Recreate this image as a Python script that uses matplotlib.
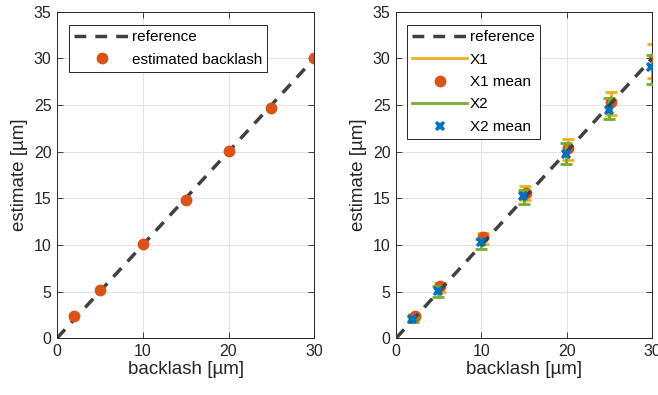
import numpy as np
import matplotlib.pyplot as plt
from matplotlib.lines import Line2D

plt.rcParams['font.family'] = ['Liberation Sans', 'DejaVu Sans']

# data
backlash = [2, 5, 10, 15, 20, 25, 30]
estimated = [2.4, 5.2, 10.1, 14.8, 20.1, 24.7, 30.0]

x1_mean = [2.35, 5.55, 10.85, 15.6, 20.4, 25.3, 30.1]
x1_low = [2.1, 5.0, 10.1, 14.8, 19.1, 23.9, 27.9]
x1_high = [2.6, 5.9, 11.3, 16.3, 21.4, 26.4, 31.5]
x2_mean = [2.0, 5.1, 10.3, 15.2, 19.8, 24.5, 29.1]
x2_low = [1.7, 4.4, 9.55, 14.4, 18.7, 23.5, 27.3]
x2_high = [2.3, 5.6, 10.6, 15.9, 20.9, 25.8, 30.4]

c_ref = '#404040'
c_orange = '#D95319'
c_yellow = '#EDB120'
c_green = '#77AC30'
c_blue = '#0072BD'
txt = '#262626'

fig = plt.figure(figsize=(6.58, 3.95), dpi=100)
ax1 = fig.add_axes([0.0866, 0.144, 0.391, 0.826])
ax2 = fig.add_axes([0.602, 0.144, 0.389, 0.826])


def style(ax):
    ax.set_xlim(0, 30)
    ax.set_ylim(0, 35)
    ax.set_xticks([0, 10, 20, 30])
    ax.set_yticks(np.arange(0, 36, 5))
    ax.grid(True, color='#e3e3e3', linewidth=0.8)
    ax.set_axisbelow(True)
    ax.tick_params(direction='in', top=True, right=True, labelsize=11.5,
                   colors=txt, length=4, width=0.6, pad=4)
    for s in ax.spines.values():
        s.set_color(txt)
        s.set_linewidth(0.7)
    ax.set_xlabel('backlash [µm]', fontsize=13.5, color=txt, labelpad=2)
    ax.set_ylabel('estimate [µm]', fontsize=13.5, color=txt, labelpad=4)


ref = [0, 30]
dash = (3.4, 2.6)
leg_kw = dict(loc='upper left', fontsize=11, fancybox=False, edgecolor=txt,
              framealpha=1, handlelength=3.6, borderpad=0.35, labelspacing=0.55,
              handletextpad=0.15, borderaxespad=0)

# left panel
ax1.plot(ref, ref, '--', color=c_ref, linewidth=2.5, dashes=dash, label='reference')
ax1.plot(backlash, estimated, 'o', color=c_orange, markersize=7.5, label='estimated backlash')
style(ax1)
leg = ax1.legend(bbox_to_anchor=(0.047, 0.96), **leg_kw)
leg.get_frame().set_linewidth(0.7)

# right panel
bx = np.array(backlash)
m1 = np.array(x1_mean)
m2 = np.array(x2_mean)
ax2.plot(ref, ref, '--', color=c_ref, linewidth=2.5, dashes=dash, zorder=4)
ax2.errorbar(bx + 0.15, m1, yerr=[m1 - np.array(x1_low), np.array(x1_high) - m1],
             fmt='none', ecolor=c_yellow, elinewidth=2, capsize=4, capthick=2, zorder=2)
ax2.plot(bx + 0.2, m1, 'o', color=c_orange, markersize=7.5, zorder=3)
ax2.errorbar(bx - 0.05, m2, yerr=[m2 - np.array(x2_low), np.array(x2_high) - m2],
             fmt='none', ecolor=c_green, elinewidth=2, capsize=4, capthick=2, zorder=3)
ax2.plot(bx - 0.1, m2, 'X', color=c_blue, markersize=7.5, markeredgewidth=0, zorder=5)
style(ax2)

handles = [
    Line2D([], [], linestyle='--', color=c_ref, linewidth=2.5, dashes=dash),
    Line2D([], [], color=c_yellow, linewidth=2),
    Line2D([], [], linestyle='none', marker='o', color=c_orange, markersize=7.5),
    Line2D([], [], color=c_green, linewidth=2),
    Line2D([], [], linestyle='none', marker='X', color=c_blue, markersize=7.5, markeredgewidth=0),
]
labels = ['reference', 'X1', 'X1 mean', 'X2', 'X2 mean']
leg2 = ax2.legend(handles, labels, bbox_to_anchor=(0.043, 0.96), **leg_kw)
leg2.get_frame().set_linewidth(0.7)

plt.savefig('out.png', dpi=100)
